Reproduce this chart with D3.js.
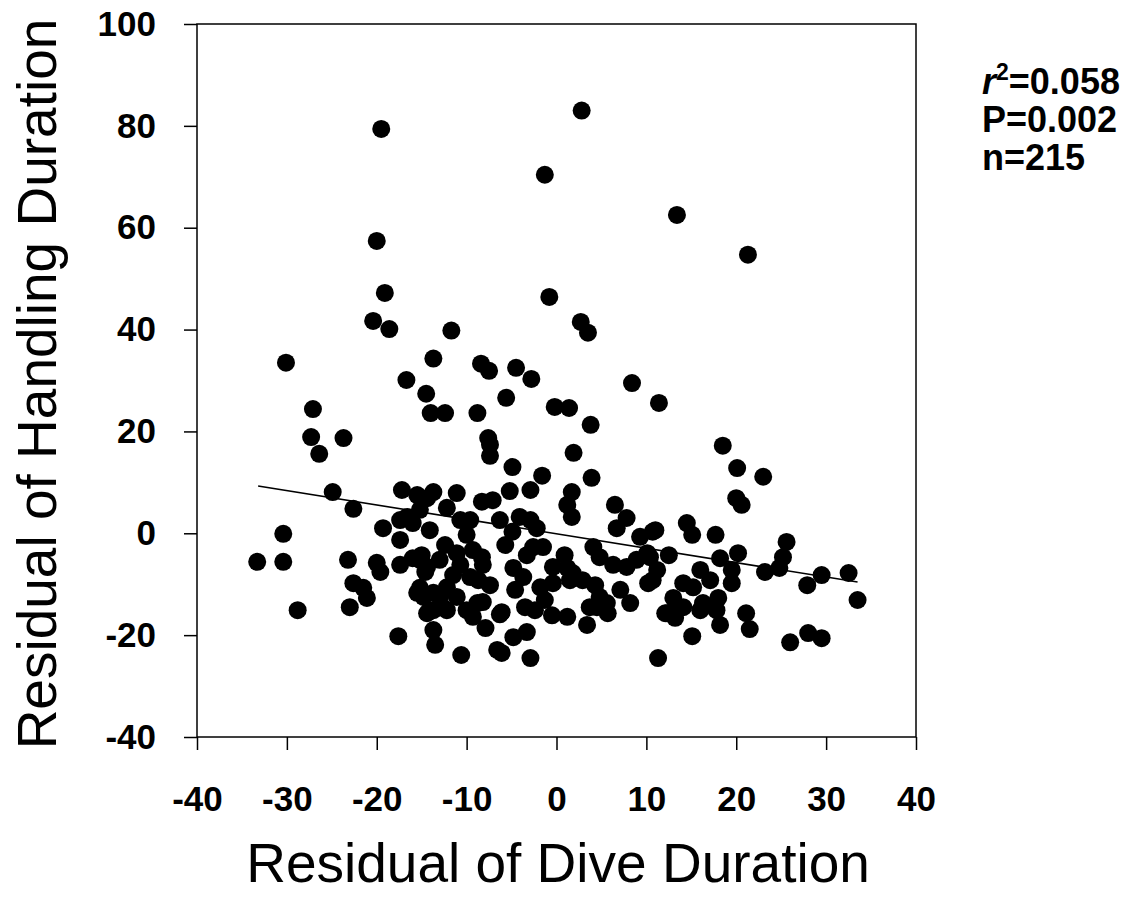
<!DOCTYPE html>
<html>
<head>
<meta charset="utf-8">
<script src="https://cdn.jsdelivr.net/npm/d3@7"></script>
<style>
  body { margin: 0; background: #fff; }
  svg { display: block; font-family: "Liberation Sans", Arial, sans-serif; }
</style>
</head>
<body>
<div id="chart"></div>
<script>
const width = 1138;
const height = 908;

// residuals (dive duration, handling duration)
const diveResid = [
  -19.5, 2.8, -1.3, 13.4, 21.3, -20.0, -19.1, -0.8, -20.4, -18.6,
  -11.7, 2.7, 3.5, -30.1, -13.7, -8.4, -7.5, -4.5, -2.8, -16.7,
  8.4, -14.5, -5.6, -27.1, -14.0, -12.4, -8.8, -0.2, 1.4, 11.4,
  3.8, -27.3, -23.7, -7.6, -7.4, -7.4, -26.4, 18.5, 1.9, 20.1,
  23.0, -4.9, -1.6, 3.9, -24.9, -22.6, -17.2, -15.5, -13.7, -16.6,
  -16.0, -17.4, -19.3, -14.1, -30.4, -11.1, -14.4, -12.2, -15.2, -8.3,
  -7.1, -6.3, -4.9, -4.1, -2.9, -2.2, -10.0, -2.9, -5.2, 1.7,
  1.2, 1.7, 6.5, 7.8, 6.7, 9.3, 10.7, 20.0, 20.6, 14.5,
  15.1, 17.7, 11.0, 25.6, -33.3, -30.4, -23.2, -20.0, -19.6, -17.4,
  -16.0, -15.0, -14.4, -22.6, -21.5, -21.1, -23.0, -15.5, -28.8, -13.7,
  -14.4, -17.6, -13.7, -13.5, -13.7, -12.2, -10.6, -9.3, -7.9, -8.8,
  -6.3, -6.6, -6.1, -4.8, -3.3, -2.9, -3.5, -0.5, 1.2, 3.4,
  4.5, 5.7, 8.2, 11.3, 12.3, 13.2, 15.1, 14.1, 16.0, 17.8,
  18.2, 21.1, 21.5, 26.0, 28.0, 29.5, 33.5, 12.5, 18.2, 20.2,
  19.5, 19.5, 25.2, 24.8, 23.2, 29.5, 32.5, 27.9, 10.1, 11.2,
  10.2, 14.1, 15.2, 17.1, 18.0, 13.0, 13.4, 12.1, 16.3, -11.1,
  -9.3, -8.3, -10.7, -8.2, -11.5, -9.6, -8.7, -12.2, -13.0, -11.1,
  -8.2, -10.0, -12.7, -15.2, -14.6, -15.2, -2.6, -1.5, -3.3, -4.8,
  -3.7, -0.4, 1.2, 1.8, -1.8, -0.4, 1.5, 2.9, -2.4, 3.7,
  4.8, 5.6, 4.1, 4.8, 6.3, 7.8, 8.9, 10.7, 10.4, -6.1,
  -14.8, -14.1, -10.7, -12.4, -5.7, 7.1, 16.0, 4.3, -1.3, -4.6,
  -17.4, -7.4, 0.9, -13.0, -9.6
];
const handlingResid = [
  79.4, 83.0, 70.4, 62.5, 54.7, 57.4, 47.2, 46.4, 41.7, 40.1,
  39.8, 41.5, 39.4, 33.5, 34.3, 33.3, 31.9, 32.5, 30.3, 30.1,
  29.5, 27.4, 26.6, 24.4, 23.6, 23.6, 23.6, 24.8, 24.6, 25.6,
  21.3, 18.9, 18.7, 18.7, 17.4, 15.2, 15.6, 17.2, 15.8, 12.8,
  11.1, 13.0, 11.3, 10.9, 8.1, 4.8, 8.5, 7.5, 8.1, 3.2,
  2.0, 2.6, 1.0, 0.6, -0.1, 7.9, 6.9, 5.0, 4.6, 6.2,
  6.5, 2.6, 0.3, 3.2, 2.6, 1.0, -0.3, 8.5, 8.3, 8.1,
  5.6, 3.2, 5.6, 3.0, 1.0, -0.7, 0.3, 6.9, 5.6, 2.0,
  -0.3, -0.3, 0.6, -1.7, -5.6, -5.6, -5.2, -5.8, -7.6, -6.2,
  -4.9, -4.3, -6.6, -9.8, -10.7, -12.7, -14.5, -11.7, -15.1, -11.7,
  -15.7, -20.2, -19.0, -21.9, -15.1, -15.1, -23.9, -16.4, -18.6, -13.7,
  -15.9, -22.9, -23.5, -20.4, -19.4, -24.5, -14.5, -16.1, -16.4, -18.0,
  -14.5, -15.7, -13.7, -24.5, -15.7, -16.6, -20.2, -14.5, -15.1, -15.1,
  -18.0, -15.7, -18.8, -21.4, -19.6, -20.6, -13.1, -4.3, -4.9, -3.9,
  -7.2, -9.8, -4.7, -6.8, -7.6, -8.2, -7.8, -10.2, -3.9, -7.2,
  -9.8, -9.8, -10.6, -9.2, -12.7, -12.7, -15.1, -15.7, -13.7, -3.9,
  -3.3, -4.7, -6.2, -6.2, -8.2, -8.6, -9.2, -10.6, -12.5, -12.5,
  -13.5, -15.1, -14.5, -5.2, -7.6, -10.7, -2.7, -2.7, -4.3, -6.8,
  -8.6, -6.6, -6.8, -7.8, -10.6, -9.8, -9.2, -9.2, -15.1, -14.5,
  -12.5, -13.7, -2.7, -4.7, -6.2, -6.6, -5.2, -9.2, -4.7, -15.5,
  -12.5, -15.1, 2.6, -2.3, -2.3, -11.1, -7.2, -10.2, -13.1, -11.1,
  -1.3, -10.2, -4.3, -5.2, 2.6
];

const xTicks = [-40, -30, -20, -10, 0, 10, 20, 30, 40];
const yTicks = [-40, -20, 0, 20, 40, 60, 80, 100];

// fitted line
const fitSlope = -0.283;
const fitIntercept = -0.1;
const fitRange = [-33.2, 33.5];

const statsLines = ["=0.058", "P=0.002", "n=215"];

const points = diveResid.map((d, i) => ({ x: d, y: handlingResid[i] }));

const svg = d3.select("#chart").append("svg")
    .attr("width", width)
    .attr("height", height);

svg.append("rect").attr("width", width).attr("height", height).attr("fill", "#fff");

const x = d3.scaleLinear().domain([-40, 40]).range([197, 916]);
const y = d3.scaleLinear().domain([-40, 100]).range([737, 24]);

// points first, frame drawn over
svg.append("g")
  .selectAll("circle")
  .data(points)
  .enter().append("circle")
    .attr("cx", d => x(d.x))
    .attr("cy", d => y(d.y))
    .attr("r", 9)
    .attr("fill", "#000");

svg.append("line")
    .attr("x1", x(fitRange[0]))
    .attr("y1", y(fitSlope * fitRange[0] + fitIntercept))
    .attr("x2", x(fitRange[1]))
    .attr("y2", y(fitSlope * fitRange[1] + fitIntercept))
    .attr("stroke", "#000")
    .attr("stroke-width", 1.6);

// box
svg.append("rect")
    .attr("x", x(-40))
    .attr("y", y(100))
    .attr("width", x(40) - x(-40))
    .attr("height", y(-40) - y(100))
    .attr("fill", "none")
    .attr("stroke", "#000")
    .attr("stroke-width", 1.5);

const fmt = d => String(d); // plain hyphen, like the original

const xAxis = svg.append("g")
    .attr("transform", `translate(0,${y(-40)})`)
    .call(d3.axisBottom(x).tickValues(xTicks).tickFormat(fmt)
      .tickSize(13).tickSizeOuter(0).tickPadding(36));

const yAxis = svg.append("g")
    .attr("transform", `translate(${x(-40)},0)`)
    .call(d3.axisLeft(y).tickValues(yTicks).tickFormat(fmt)
      .tickSize(13).tickSizeOuter(0).tickPadding(28));

[xAxis, yAxis].forEach(g => {
  g.select(".domain").remove();
  g.selectAll(".tick line").attr("stroke", "#000").attr("stroke-width", 1.5);
  g.selectAll(".tick text")
    .attr("fill", "#000")
    .style("font-family", "'Liberation Sans', Arial, sans-serif")
    .style("font-size", "35px")
    .style("font-weight", "bold");
});

// axis titles
svg.append("text")
    .attr("x", 558)
    .attr("y", 882)
    .attr("text-anchor", "middle")
    .style("font-size", "55px")
    .text("Residual of Dive Duration");

svg.append("text")
    .attr("transform", "translate(56,384) rotate(-90)")
    .attr("text-anchor", "middle")
    .style("font-size", "55px")
    .text("Residual of Handling Duration");

// stats
const stats = svg.append("g")
    .style("font-size", "36px")
    .style("font-weight", "bold");

const r2 = stats.append("text").attr("x", 982).attr("y", 94);
r2.append("tspan").style("font-style", "italic").text("r");
r2.append("tspan").attr("dy", -14).style("font-size", "23px").text("2");
r2.append("tspan").attr("dy", 14).text(statsLines[0]);

stats.append("text").attr("x", 982).attr("y", 132).text(statsLines[1]);
stats.append("text").attr("x", 982).attr("y", 170).text(statsLines[2]);
</script>
</body>
</html>
